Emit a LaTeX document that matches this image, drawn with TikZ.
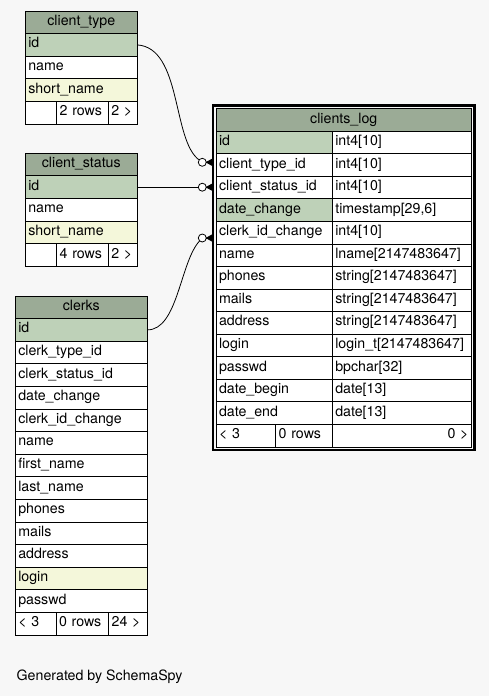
\documentclass[tikz,border=0pt]{standalone}
\usepackage{fontspec}
\setmainfont{TeX Gyre Heros}
\usetikzlibrary{arrows.meta, positioning}
\definecolor{hdrgreen}{HTML}{9BAB96}
\definecolor{keygreen}{HTML}{BED1B8}
\definecolor{idxyellow}{HTML}{F4F7DA}
\definecolor{canvasgrey}{HTML}{F7F7F7}
\newcommand{\fld}[1]{\detokenize{#1}}

\begin{document}
\begin{tikzpicture}[x=1pt, y=-1pt, node distance = 0pt and 0pt,
  every node/.style={font=\fontsize{14.2}{17}\selectfont, outer sep=0pt},
  cell/.style={draw, line width=0.9pt, fill=#1, anchor=north west, minimum height=22.6pt,
    inner xsep=3pt, inner ysep=0pt, text height=10pt, text depth=4pt, align=left},
  cell/.default=white,
  hdr/.style={cell=hdrgreen, align=center},
  odot/.style={circle, draw, fill=white, line width=0.8pt, minimum size=8pt, inner sep=0pt},
  crow/.style={-{Triangle[reversed, length=8pt, width=8.5pt]}, line width=0.9pt},
  fk/.style={line width=0.8pt}]
\fill[canvasgrey] (0,0) rectangle (489,696);
\useasboundingbox (0,0) rectangle (489,696);
%
% client_type
\node (ct0) [hdr, text width=106pt] at (25.3,11) {\fld{client_type}};
\foreach \col/\bg [count=\i from 1] in {
  \fld{id}/keygreen,
  \fld{name}/white,
  \fld{short_name}/idxyellow}
  \node (ct\i) [cell=\bg, text width=106pt] at (25.3,{11+22.6*\i}) {\col};
\node (ctf1) [cell, text width=25.4pt] at (25.3,{11+22.6*4}) {};
\node (ctf2) [cell, text width=45.6pt, right=of ctf1] {2 rows};
\node (ctf3) [cell, text width=23pt, right=of ctf2] {2 >};
%
% client_status
\node (cs0) [hdr, text width=106pt] at (25.3,153.3) {\fld{client_status}};
\foreach \col/\bg [count=\i from 1] in {
  \fld{id}/keygreen,
  \fld{name}/white,
  \fld{short_name}/idxyellow}
  \node (cs\i) [cell=\bg, text width=106pt] at (25.3,{153.3+22.6*\i}) {\col};
\node (csf1) [cell, text width=25.4pt] at (25.3,{153.3+22.6*4}) {};
\node (csf2) [cell, text width=45.6pt, right=of csf1] {4 rows};
\node (csf3) [cell, text width=23pt, right=of csf2] {2 >};
%
% clerks
\node (cl0) [hdr, text width=126pt] at (15.3,296) {\fld{clerks}};
\foreach \col/\bg [count=\i from 1] in {
  \fld{id}/keygreen,
  \fld{clerk_type_id}/white,
  \fld{clerk_status_id}/white,
  \fld{date_change}/white,
  \fld{clerk_id_change}/white,
  \fld{name}/white,
  \fld{first_name}/white,
  \fld{last_name}/white,
  \fld{phones}/white,
  \fld{mails}/white,
  \fld{address}/white,
  \fld{login}/idxyellow,
  \fld{passwd}/white}
  \node (cl\i) [cell=\bg, text width=126pt] at (15.3,{296+22.6*\i}) {\col};
\node (clf1) [cell, text width=34.7pt] at (15.3,{296+22.6*14}) {< 3};
\node (clf2) [cell, text width=46.7pt, right=of clf1] {0 rows};
\node (clf3) [cell, text width=32.6pt, right=of clf2] {24 >};
%
% clients_log
\node (log0) [hdr, text width=249.5pt] at (216,108.7) {\fld{clients_log}};
\foreach \col/\bg/\typ [count=\i from 1] in {
  \fld{id}/keygreen/{int4[10]},
  \fld{client_type_id}/white/{int4[10]},
  \fld{client_status_id}/white/{int4[10]},
  \fld{date_change}/keygreen/{timestamp[29,6]},
  \fld{clerk_id_change}/white/{int4[10]},
  \fld{name}/white/{lname[2147483647]},
  \fld{phones}/white/{string[2147483647]},
  \fld{mails}/white/{string[2147483647]},
  \fld{address}/white/{string[2147483647]},
  \fld{login}/white/{\fld{login_t}[2147483647]},
  \fld{passwd}/white/{bpchar[32]},
  \fld{date_begin}/white/{date[13]},
  \fld{date_end}/white/{date[13]}}
{
  \node (logl\i) [cell=\bg, text width=110.3pt] at (216,{108.7+22.55*\i}) {\col};
  \node (logr\i) [cell, text width=133.2pt, right=of logl\i] {\typ};
}
\node (logf1) [cell, text width=53.7pt] at (216,{108.7+22.55*14}) {< 3};
\node (logf2) [cell, text width=50.6pt, right=of logf1] {0 rows};
\node (logf3) [cell, text width=133.2pt, align=right, right=of logf2] {0 >};
%
% foreign keys
\node (o1) [odot] at (202.3,162.3) {};
\node (o2) [odot] at (cs1.east -| o1) {};
\node (o3) [odot] at (202.3,238) {};
\coordinate (edge) at ([xshift=-2.5pt]log0.west);
\draw[fk] (ct1.east) .. controls (182,48) and (172,140) .. (o1);
\draw[fk] (cs1.east) -- (o2);
\draw[fk] (cl1.east) .. controls (178,330) and (180,262) .. (o3);
\foreach \o in {o1,o2,o3}
  \draw[crow] (\o) -- (\o -| edge);
%
\draw[line width=2.5pt] ([xshift=-3pt,yshift=3pt]log0.north west) rectangle ([xshift=3pt,yshift=-3pt]logf3.south east);
%
\node (gen) [anchor=base west, inner sep=0pt] at (16.7,680) {Generated by SchemaSpy};
\end{tikzpicture}
\end{document}
